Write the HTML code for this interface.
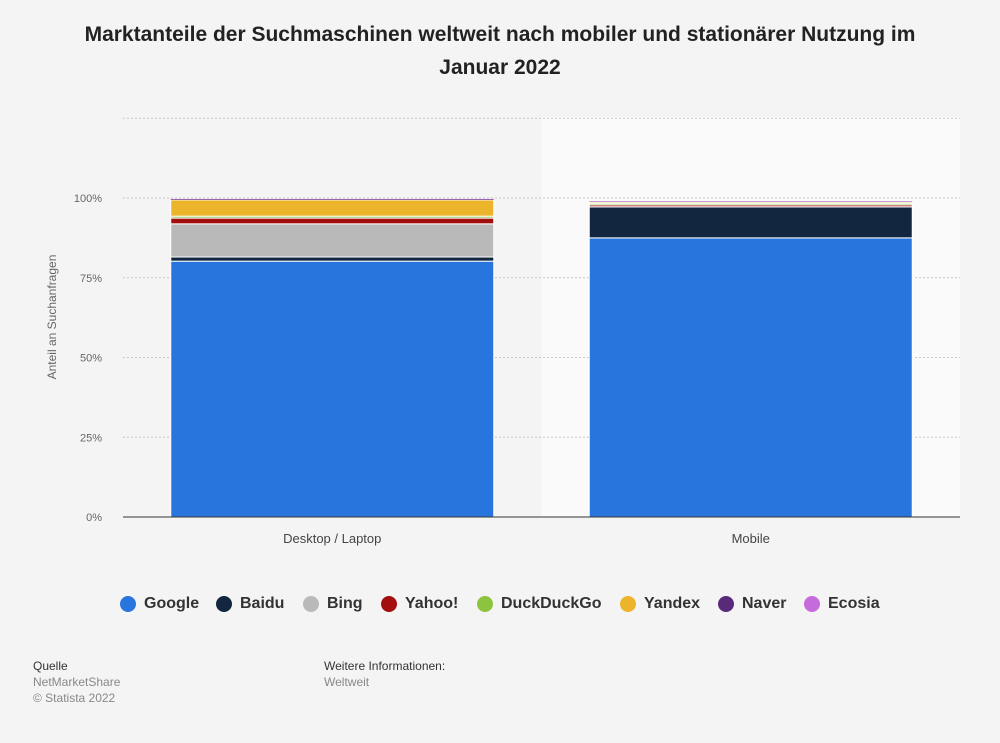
<!DOCTYPE html>
<html><head><meta charset="utf-8"><style>
body{margin:0;background:#f4f4f4;font-family:"Liberation Sans",sans-serif;}
#wrap{position:relative;width:1000px;height:743px;}
h1{position:absolute;left:0;top:18px;width:1000px;text-align:center;font-size:21px;line-height:33px;font-weight:bold;color:#222;margin:0;}
.leg{position:absolute;top:595px;font-size:16px;font-weight:bold;color:#333;display:flex;align-items:center;}
.leg i{display:inline-block;width:16px;height:16px;border-radius:50%;margin-right:8px;}
.ft{position:absolute;font-size:12px;color:#333;line-height:16px;}
.ft span{color:#888;}
</style></head><body><div id="wrap">
<h1>Marktanteile der Suchmaschinen weltweit nach mobiler und stationärer Nutzung im<br>Januar 2022</h1>
<svg id="chart" width="1000" height="743" style="position:absolute;left:0;top:0"></svg>
<div id="legend"></div>
<div class="ft" style="left:33px;top:658px">Quelle<br><span>NetMarketShare<br>© Statista 2022</span></div>
<div class="ft" style="left:324px;top:658px">Weitere Informationen:<br><span>Weltweit</span></div>
</div>
<script>
const categories=["Desktop / Laptop","Mobile"];
const seriesNames=["Google","Baidu","Bing","Yahoo!","DuckDuckGo","Yandex","Naver","Ecosia"];
const colors=["#2876dd","#12263f","#b9b9b9","#a30f0f","#8cc43f","#ecb42a","#5a2a7a","#c56bdc"];
const google=[80.2,87.5];
const baidu=[1.3,9.7];
const bing=[10.4,0.05];
const yahoo=[1.8,0.6];
const duckduckgo=[0.6,0.5];
const yandex=[5.1,0.4];
const naver=[0.2,0.1];
const ecosia=[0.1,0.1];
const values=[google,baidu,bing,yahoo,duckduckgo,yandex,naver,ecosia];
const ticks=[0,25,50,75,100,125];
const tickLabels=["0%","25%","50%","75%","100%",""];
const NS="http://www.w3.org/2000/svg";
const svg=document.getElementById('chart');
const x0=123,x1=960,y0=517,pxPer=(517-198)/100;
const y=v=>y0-v*pxPer;
const band=(x1-x0)/categories.length;
function el(t,a){const e=document.createElementNS(NS,t);for(const k in a)e.setAttribute(k,a[k]);svg.appendChild(e);return e;}
let bg=el('rect',{x:x0+band,y:117,width:band,height:y0-117,fill:'#fafafa'});


ticks.forEach((t,i)=>{
 if(t===0)return;
 const g=el('line',{x1:x0,x2:x1,y1:y(t),y2:y(t),stroke:'#c8c8c8','stroke-dasharray':'2,2'});
 
 
});
ticks.forEach((t,i)=>{
 const tx=el('text',{x:102,y:y(t)+4,'text-anchor':'end','font-size':11,fill:'#666'});
 tx.textContent=tickLabels[i];
 
 
});
const yt=el('text',{x:0,y:0,transform:'translate(56,317) rotate(-90)','text-anchor':'middle','font-size':12,fill:'#666'});
yt.textContent='Anteil an Suchanfragen';


categories.forEach((c,ci)=>{
 const cx=x0+band*(ci+0.5),w=323;let acc=0;
 values.forEach((s,si)=>{
  const v=s[ci];const r=el('rect',{x:cx-w/2,y:y(acc+v),width:w,height:Math.max(v*pxPer,0.3),fill:colors[si],stroke:'#fff','stroke-width':v<0.3?0:1});
  
  
  acc+=v;
 });
 const t=el('text',{x:cx,y:543,'text-anchor':'middle','font-size':13,fill:'#444'});
 t.textContent=c;
 
 
});
const ax=el('line',{x1:x0,x2:x1,y1:y0,y2:y0,stroke:'#333','stroke-width':1});


const lx=[120,216,303,381,477,620,718,804];
const lg=document.getElementById('legend');
seriesNames.forEach((n,i)=>{
 const d=document.createElement('div');d.className='leg';d.style.left=lx[i]+'px';
 d.innerHTML='<i style="background:'+colors[i]+'"></i>'+n;
 
 
 lg.appendChild(d);
});
</script></body></html>
